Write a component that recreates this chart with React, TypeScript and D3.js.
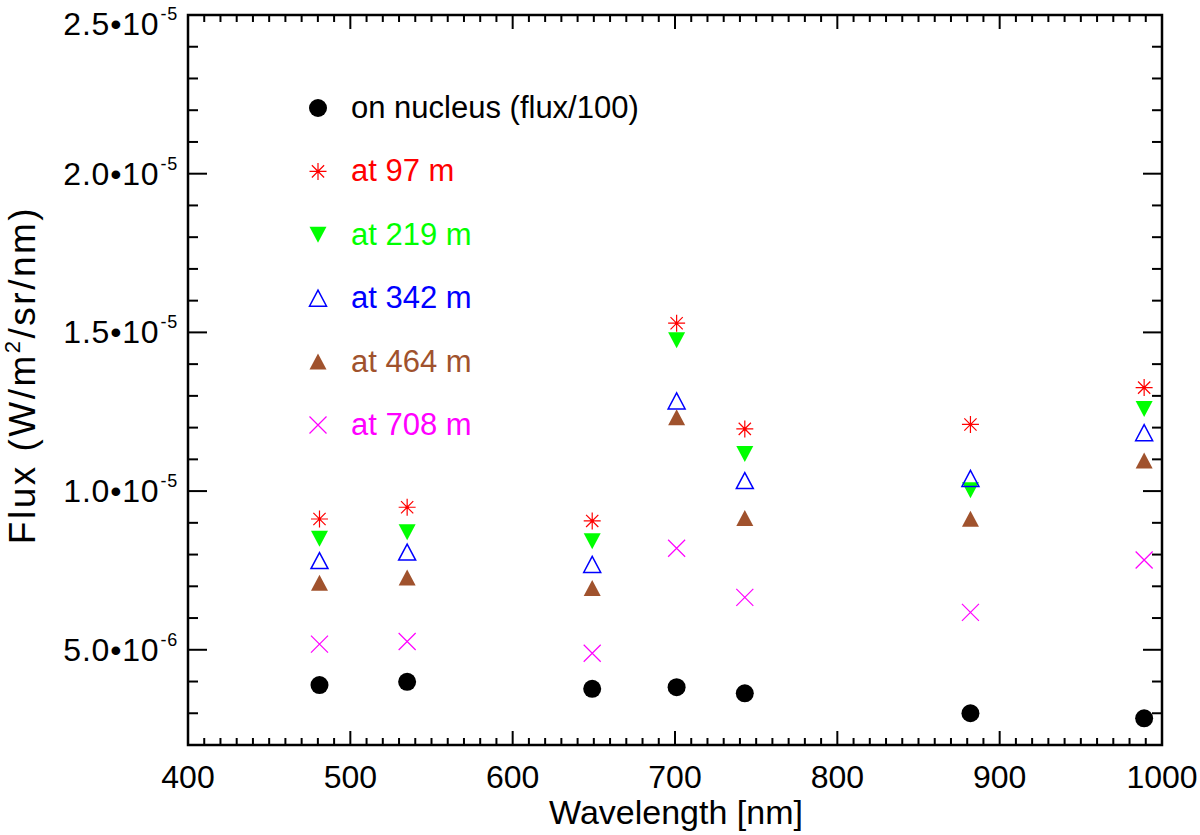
import { useEffect, useRef } from "react"
import * as d3 from "d3"

// wavelengths in nm
const wavelengths = [481, 535, 649, 701, 743, 882, 989]

// flux values (W/m^2/sr/nm)
const onNucleus = [3.89e-6, 3.99e-6, 3.77e-6, 3.82e-6, 3.63e-6, 3.0e-6, 2.84e-6]
const at97 = [9.12e-6, 9.49e-6, 9.06e-6, 1.529e-5, 1.196e-5, 1.21e-5, 1.326e-5]
const at219 = [8.5e-6, 8.7e-6, 8.42e-6, 1.475e-5, 1.117e-5, 1.003e-5, 1.259e-5]
const at342 = [7.81e-6, 8.08e-6, 7.69e-6, 1.284e-5, 1.033e-5, 1.04e-5, 1.184e-5]
const at464 = [7.11e-6, 7.28e-6, 6.95e-6, 1.233e-5, 9.15e-6, 9.13e-6, 1.096e-5]
const at708 = [5.18e-6, 5.26e-6, 4.89e-6, 8.2e-6, 6.65e-6, 6.18e-6, 7.83e-6]

const seriesNames = ["on nucleus (flux/100)", "at 97 m", "at 219 m", "at 342 m", "at 464 m", "at 708 m"]
const seriesColors = ["#000000", "#ff0000", "#00ff00", "#0000ff", "#a0522d", "#ff00ff"]
const seriesMarkers = ["circle", "asterisk", "triangleDown", "triangleOpen", "triangleUp", "cross"]

const xTicks = [400, 500, 600, 700, 800, 900, 1000]
const yTicks = [5e-6, 1e-5, 1.5e-5, 2e-5, 2.5e-5]
const yTickMant = ["5.0", "1.0", "1.5", "2.0", "2.5"]
const yTickExp = ["-6", "-5", "-5", "-5", "-5"]

const FONT = "'Liberation Sans', Arial, Helvetica, sans-serif"

function drawMarker(g: d3.Selection<SVGGElement, unknown, null, undefined>, kind: string, color: string, cx: number, cy: number) {
  const s = 8.5
  if (kind === "circle") {
    g.append("circle").attr("cx", cx).attr("cy", cy).attr("r", 9).attr("fill", color)
  } else if (kind === "asterisk") {
    const p = d3.path()
    p.moveTo(cx - s, cy); p.lineTo(cx + s, cy)
    p.moveTo(cx, cy - s); p.lineTo(cx, cy + s)
    const d = s * 0.72
    p.moveTo(cx - d, cy - d); p.lineTo(cx + d, cy + d)
    p.moveTo(cx - d, cy + d); p.lineTo(cx + d, cy - d)
    g.append("path").attr("d", p.toString()).attr("stroke", color).attr("stroke-width", 1.2).attr("fill", "none")
    g.append("circle").attr("cx", cx).attr("cy", cy).attr("r", 1.5).attr("fill", color)
  } else if (kind === "cross") {
    const p = d3.path()
    p.moveTo(cx - s, cy - s); p.lineTo(cx + s, cy + s)
    p.moveTo(cx - s, cy + s); p.lineTo(cx + s, cy - s)
    g.append("path").attr("d", p.toString()).attr("stroke", color).attr("stroke-width", 1.2).attr("fill", "none")
  } else {
    const p = d3.path()
    const h = 8
    if (kind === "triangleDown") {
      p.moveTo(cx - s, cy - h); p.lineTo(cx + s, cy - h); p.lineTo(cx, cy + h); p.closePath()
    } else {
      p.moveTo(cx - s, cy + h); p.lineTo(cx + s, cy + h); p.lineTo(cx, cy - h); p.closePath()
    }
    if (kind === "triangleOpen") {
      g.append("path").attr("d", p.toString()).attr("stroke", color).attr("stroke-width", 1.5).attr("fill", "none")
    } else {
      g.append("path").attr("d", p.toString()).attr("fill", color)
    }
  }
}

export default function App() {
  const svgRef = useRef<SVGSVGElement>(null)

  useEffect(() => {
    if (!svgRef.current) return
    const width = 1200
    const height = 835
    const left = 188, right = 1162, top = 15, bottom = 745

    const svg = d3.select(svgRef.current).attr("width", width).attr("height", height)
    svg.selectAll("*").remove()

    const x = d3.scaleLinear().domain([400, 1000]).range([left, right])
    const y = d3.scaleLinear().domain([2e-6, 2.5e-5]).range([bottom, top])

    const axes = svg.append("g").attr("stroke", "#000")

    // x ticks, bottom and top
    d3.range(400, 1001, 10).forEach((v) => {
      const major = v % 100 === 0
      const len = major ? 14 : 7
      axes.append("line").attr("x1", x(v)).attr("x2", x(v)).attr("y1", bottom).attr("y2", bottom - len).attr("stroke-width", 2)
      axes.append("line").attr("x1", x(v)).attr("x2", x(v)).attr("y1", top).attr("y2", top + len).attr("stroke-width", 2)
    })

    // y ticks, left and right
    d3.range(2, 26, 1).forEach((i) => {
      const v = i * 1e-6
      const major = i % 5 === 0
      const len = major ? 19 : 10
      axes.append("line").attr("x1", left).attr("x2", left + len).attr("y1", y(v)).attr("y2", y(v)).attr("stroke-width", 2)
      axes.append("line").attr("x1", right).attr("x2", right - len).attr("y1", y(v)).attr("y2", y(v)).attr("stroke-width", 2)
    })

    axes.append("rect")
      .attr("x", left).attr("y", top)
      .attr("width", right - left).attr("height", bottom - top)
      .attr("fill", "none").attr("stroke-width", 2.5)

    // x tick labels
    svg.append("g").selectAll("text").data(xTicks).enter().append("text")
      .attr("x", (d) => x(d)).attr("y", bottom + 43)
      .attr("text-anchor", "middle")
      .attr("font-family", FONT).attr("font-size", 32)
      .text((d) => d)

    // y tick labels with exponents
    yTicks.forEach((v, i) => {
      const ty = Math.max(y(v), 24)
      const t = svg.append("text")
        .attr("x", left - 10).attr("y", ty + 11)
        .attr("text-anchor", "end")
        .attr("font-family", FONT).attr("font-size", 32)
        .attr("letter-spacing", 0.8)
      t.append("tspan").text(yTickMant[i] + "\u202210")
      t.append("tspan").attr("font-size", 18).attr("dx", 1).attr("dy", -15).text(yTickExp[i])
    })

    // axis titles
    svg.append("text")
      .attr("x", (left + right) / 2 + 1).attr("y", 824)
      .attr("text-anchor", "middle")
      .attr("font-family", FONT).attr("font-size", 34)
      .text("Wavelength [nm]")

    const yl = svg.append("text")
      .attr("transform", `translate(35,${375}) rotate(-90)`)
      .attr("text-anchor", "middle")
      .attr("font-family", FONT).attr("font-size", 37)
      .attr("letter-spacing", 2.5)
    yl.append("tspan").text("Flux (W/m")
    yl.append("tspan").attr("font-size", 22).attr("dy", -15).text("2")
    yl.append("tspan").attr("dy", 15).text("/sr/nm)")

    // data
    const series = [onNucleus, at97, at219, at342, at464, at708]
    const pts = svg.append("g")
    series.forEach((vals, si) => {
      vals.forEach((v, i) => {
        drawMarker(pts, seriesMarkers[si], seriesColors[si], x(wavelengths[i]), y(v))
      })
    })

    // legend
    const lg = svg.append("g")
    seriesNames.forEach((name, i) => {
      const ly = 108 + i * 63.4
      drawMarker(lg, seriesMarkers[i], seriesColors[i], 318, ly)
      lg.append("text")
        .attr("x", 351).attr("y", ly + 10)
        .attr("font-family", FONT).attr("font-size", 31)
        .attr("fill", seriesColors[i])
        .text(name)
    })
  }, [])

  return <svg ref={svgRef} style={{ position: "absolute", left: 0, top: 0 }} />
}
